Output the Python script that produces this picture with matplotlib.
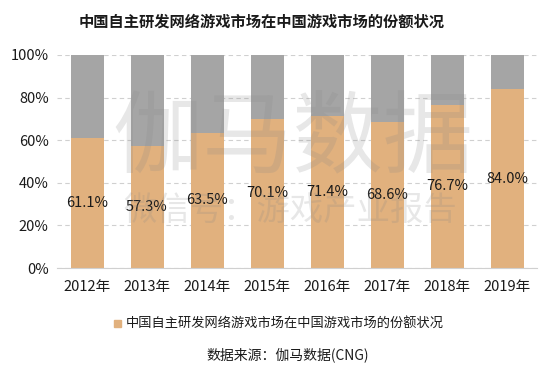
import numpy as np
import matplotlib.pyplot as plt

plt.rcParams['font.family'] = ['Noto Sans CJK SC', 'DejaVu Sans']

# data
years = ['2012年', '2013年', '2014年', '2015年', '2016年', '2017年', '2018年', '2019年']
share = [61.1, 57.3, 63.5, 70.1, 71.4, 68.6, 76.7, 84.0]
rest = [100 - s for s in share]

orange = '#E1B17E'
grey = '#A5A5A5'

fig = plt.figure(figsize=(5.56, 3.69), dpi=100)
W, H = 556, 369
ax = fig.add_axes([57 / W, 1 - 268 / H, (537 - 57) / W, (268 - 55) / H])

x = np.arange(len(years))
ax.bar(x, share, width=0.55, color=orange, zorder=2)
ax.bar(x, rest, width=0.55, bottom=share, color=grey, zorder=2)

# value labels in the middle of the orange part
for xi, s in zip(x, share):
    ax.text(xi, s / 2, f'{s:.1f}%', ha='center', va='center', fontsize=10.5,
            color='#1a1a1a', zorder=4)

ax.set_xlim(-0.5, 7.5)
ax.set_ylim(0, 100)
ax.set_yticks(np.arange(0, 101, 20))
ax.set_yticklabels([f'{v}%' for v in range(0, 101, 20)])
ax.set_xticks(x)
ax.set_xticklabels(years)
ax.tick_params(axis='both', length=0, labelsize=10.5, colors='#1a1a1a')
ax.tick_params(axis='x', pad=9)
ax.tick_params(axis='y', pad=6)
ax.yaxis.grid(True, linestyle=(0, (4, 3)), color='#D0D0D0', linewidth=0.8, zorder=1)
ax.set_axisbelow(True)
for sp in ['top', 'right', 'left']:
    ax.spines[sp].set_visible(False)
ax.spines['bottom'].set_color('#D0D0D0')

# watermark
fig.text(293 / W, 1 - 140 / H, '伽马数据', fontsize=65, color='#888888', alpha=0.2,
         ha='center', va='center', zorder=5)
fig.text(290 / W, 1 - 210 / H, '微信号：游戏产业报告', fontsize=24, color='#888888', alpha=0.2,
         ha='center', va='center', zorder=5)

fig.text(0.47, 1 - 22 / H, '中国自主研发网络游戏市场在中国游戏市场的份额状况',
         ha='center', va='center', fontsize=11, fontweight='bold', color='#1a1a1a')

# legend
fig.patches.append(plt.Rectangle((114 / W, 1 - 327 / H), 7 / W, 7 / H,
                                 transform=fig.transFigure, color=orange))
fig.text(126 / W, 1 - 323 / H, '中国自主研发网络游戏市场在中国游戏市场的份额状况',
         ha='left', va='center', fontsize=9.5, color='#1a1a1a')

fig.text(288 / W, 1 - 355 / H, '数据来源：伽马数据(CNG)', ha='center', va='center',
         fontsize=10, color='#1a1a1a')

fig.savefig('out.png', dpi=100)
